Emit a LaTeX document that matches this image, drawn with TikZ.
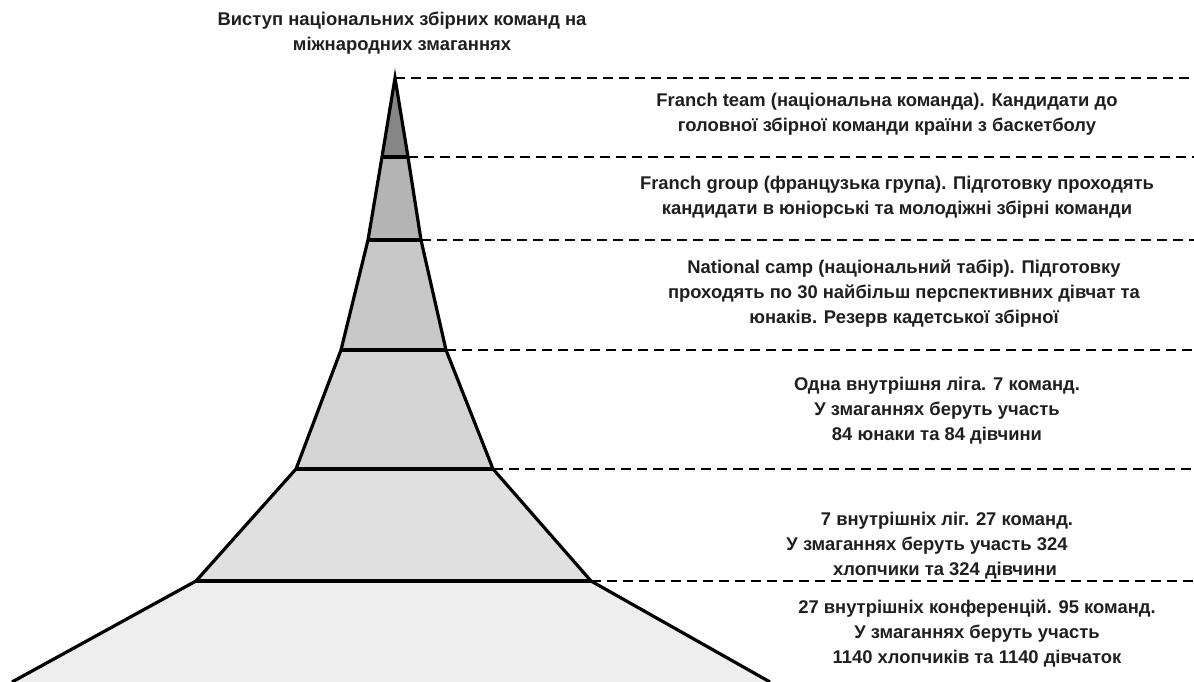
\documentclass[tikz,border=0pt]{standalone}
\usepackage{fontspec}
\setmainfont{Liberation Sans}
\usetikzlibrary{positioning, calc}

\definecolor{band0}{RGB}{134,134,134}
\definecolor{band1}{RGB}{180,180,180}
\definecolor{band2}{RGB}{200,200,200}
\definecolor{band3}{RGB}{212,212,212}
\definecolor{band4}{RGB}{224,224,224}
\definecolor{band5}{RGB}{238,238,238}

\begin{document}
\begin{tikzpicture}[x=1pt, y=-1pt, outline/.style={draw=black, line width=3.2pt, line join=miter}, guide/.style={line width=2.4pt, dash pattern=on 10pt off 6pt}, label/.style={align=center, font=\bfseries\fontsize{18.4}{25}\selectfont, text=black!88}]
		\useasboundingbox (0,0) rectangle (1194,682);
		\coordinate (E) at (1194,0);
		
		%Piramide: pontos da esquerda (L) e da direita (R)
		\coordinate (L0) at (395,78);  \coordinate (R0) at (395,78);
		\coordinate (L1) at (382,157); \coordinate (R1) at (408,157);
		\coordinate (L2) at (368,240); \coordinate (R2) at (421,240);
		\coordinate (L3) at (341,350); \coordinate (R3) at (446,350);
		\coordinate (L4) at (296,469); \coordinate (R4) at (493,469);
		\coordinate (L5) at (196,581); \coordinate (R5) at (591,581);
		\coordinate (L6) at (12,682);  \coordinate (R6) at (770,682);
		
		%Faixas
		\fill[band0] (L0) -- (L1) -- (R1) -- cycle;
		\fill[band1] (L1) -- (L2) -- (R2) -- (R1) -- cycle;
		\fill[band2] (L2) -- (L3) -- (R3) -- (R2) -- cycle;
		\fill[band3] (L3) -- (L4) -- (R4) -- (R3) -- cycle;
		\fill[band4] (L4) -- (L5) -- (R5) -- (R4) -- cycle;
		\fill[band5] (L5) -- (L6) -- (R6) -- (R5) -- cycle;
		
		\draw[outline] (L6) -- (L5) -- (L4) -- (L3) -- (L2) -- (L1) -- (L0) -- (R1) -- (R2) -- (R3) -- (R4) -- (R5) -- (R6);
		\foreach \i in {1,...,5}
			\draw[outline, line cap=butt] (L\i) -- (R\i);
		
		%Linhas tracejadas
		\foreach \i in {0,...,5}
			\draw[guide] (R\i) -- (R\i -| E);
		
		%Textos
		\node[label] (title) at (402,33) {Виступ національних збірних команд на\\міжнародних змаганнях};
		\node[label] (t1) at (887,114) {Franch team (національна команда). Кандидати до\\головної збірної команди країни з баскетболу};
		\node[label] (t2) at (897,197) {Franch group (французька група). Підготовку проходять\\кандидати в юніорські та молодіжні збірні команди};
		\node[label] (t3) at (904,294) {National camp (національний табір). Підготовку\\проходять по 30 найбільш перспективних дівчат та\\юнаків. Резерв кадетської збірної};
		\node[label] (t4) at (937,411) {Одна внутрішня ліга. 7 команд.\\У змаганнях беруть участь\\84 юнаки та 84 дівчини};
		\node[label] (t5) at (927,546) {\hspace{40pt}7 внутрішніх ліг. 27 команд.\\У змаганнях беруть участь 324\\\hspace{36pt}хлопчики та 324 дівчини};
		\node[label] (t6) at (977,633) {27 внутрішніх конференцій. 95 команд.\\У змаганнях беруть участь\\1140 хлопчиків та 1140 дівчаток};
	\end{tikzpicture}
\end{document}
